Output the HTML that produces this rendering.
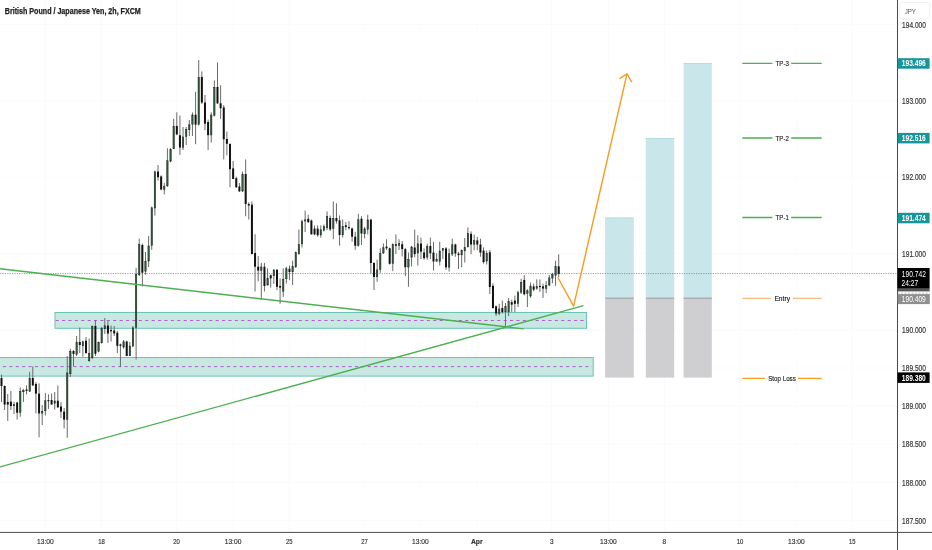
<!DOCTYPE html><html><head><meta charset="utf-8"><style>html,body{margin:0;padding:0;background:#fff;width:932px;height:550px;overflow:hidden}svg{display:block;will-change:transform}text{font-family:"Liberation Sans",sans-serif}</style></head><body>
<svg width="932" height="550" viewBox="0 0 932 550">
<rect width="932" height="550" fill="#fff"/>
<path d="M45.4 0V532 M101.5 0V532 M176.5 0V532 M233.0 0V532 M289.3 0V532 M364.5 0V532 M420.5 0V532 M476.8 0V532 M551.8 0V532 M608.5 0V532 M664.3 0V532 M740.0 0V532 M796.5 0V532 M852.3 0V532 M0 24.6H897 M0 100.9H897 M0 177.2H897 M0 253.5H897 M0 329.9H897 M0 368.0H897 M0 406.2H897 M0 444.3H897 M0 482.5H897 M0 520.7H897" stroke="#fbfbfb" stroke-width="1" fill="none"/>
<rect x="55" y="312.5" width="531.5" height="15.8" fill="#c8e8e2" stroke="#6cc4b4" stroke-width="1"/>
<rect x="-1" y="357.5" width="594.2" height="18.6" fill="#c8e8e2" stroke="#6cc4b4" stroke-width="1"/>
<path d="M55.6 320.5H585" stroke="#b45ccc" stroke-width="1" stroke-dasharray="3.1 3.3" fill="none"/>
<path d="M2.95 366.6H592" stroke="#b45ccc" stroke-width="1" stroke-dasharray="3.1 3.3" fill="none"/>
<rect x="605.1" y="217.6" width="28.7" height="80.6" fill="#c9e7eb"/>
<rect x="605.1" y="298.2" width="28.7" height="79.4" fill="#cfcfd2"/>
<rect x="605.1" y="297.6" width="28.7" height="1.2" fill="#a2a2a6"/>
<rect x="605.1" y="217.6" width="28.7" height="1" fill="#b3dde2"/>
<rect x="645.8" y="138" width="28.4" height="160.2" fill="#c9e7eb"/>
<rect x="645.8" y="298.2" width="28.4" height="79.4" fill="#cfcfd2"/>
<rect x="645.8" y="297.6" width="28.4" height="1.2" fill="#a2a2a6"/>
<rect x="645.8" y="138" width="28.4" height="1" fill="#b3dde2"/>
<rect x="683.6" y="63.1" width="28.2" height="235.1" fill="#c9e7eb"/>
<rect x="683.6" y="298.2" width="28.2" height="79.4" fill="#cfcfd2"/>
<rect x="683.6" y="297.6" width="28.2" height="1.2" fill="#a2a2a6"/>
<rect x="683.6" y="63.1" width="28.2" height="1" fill="#b3dde2"/>
<path d="M0 273.6H897" stroke="#8a8a8a" stroke-width="0.9" stroke-dasharray="1.2 1.2" fill="none"/>
<path d="M1.50 374.5V402.0 M4.63 385.5V410.0 M7.76 394.0V421.0 M10.89 391.0V410.0 M14.02 401.8V414.0 M17.15 401.8V419.6 M20.28 387.5V416.8 M23.41 389.0V402.0 M26.54 385.5V394.3 M29.67 371.8V392.0 M32.80 366.4V385.5 M35.93 382.0V413.4 M39.06 383.4V437.3 M42.19 405.0V425.0 M45.32 393.0V415.5 M48.45 394.3V409.0 M51.58 393.5V405.0 M54.72 392.0V409.5 M57.85 385.5V408.0 M60.98 402.0V418.0 M64.11 408.0V428.4 M67.24 356.0V437.8 M70.37 348.7V377.0 M73.50 350.0V366.0 M76.63 336.0V356.0 M79.76 327.6V353.0 M82.89 340.7V356.7 M86.02 337.0V353.8 M89.15 338.5V361.8 M92.28 325.5V359.0 M95.41 320.0V356.0 M98.54 341.5V352.4 M101.67 327.0V343.6 M104.80 318.0V334.0 M107.93 321.0V343.0 M111.06 325.5V341.5 M114.19 326.0V336.0 M117.32 331.0V353.0 M120.45 343.6V367.0 M123.58 340.0V348.7 M126.71 340.7V356.0 M129.84 342.0V356.0 M132.97 326.0V346.5 M136.10 267.8V359.6 M139.23 238.6V276.0 M142.36 243.5V286.6 M145.49 252.0V274.7 M148.62 236.0V267.0 M151.75 206.6V249.8 M154.88 170.6V215.6 M158.02 165.0V180.5 M161.15 175.3V190.3 M164.28 183.0V194.4 M167.41 148.3V187.0 M170.54 148.3V162.2 M173.67 118.8V149.0 M176.80 112.3V135.2 M179.93 115.5V154.8 M183.06 127.0V150.0 M186.19 127.0V145.0 M189.32 120.0V136.0 M192.45 112.5V136.0 M195.58 91.8V144.2 M198.71 60.0V125.4 M201.84 71.4V104.0 M204.97 95.0V130.3 M208.10 119.6V150.0 M211.23 112.3V142.6 M214.36 80.4V116.4 M217.49 62.4V104.0 M220.62 85.3V118.8 M223.75 105.0V159.4 M226.88 131.5V155.3 M230.01 143.8V187.2 M233.14 161.0V179.0 M236.27 176.6V188.0 M239.40 183.0V192.0 M242.53 171.6V192.0 M245.66 159.4V216.2 M248.79 202.3V219.5 M251.92 201.5V254.6 M255.05 234.3V291.5 M258.18 256.0V281.4 M261.31 262.9V300.0 M264.45 262.9V291.5 M267.58 268.3V285.3 M270.71 274.5V287.6 M273.84 269.0V283.7 M276.97 269.0V290.0 M280.10 278.3V303.8 M283.23 268.3V296.9 M286.36 266.7V283.5 M289.49 265.5V280.2 M292.62 260.6V285.0 M295.75 251.5V268.0 M298.88 229.5V254.8 M302.01 219.6V247.5 M305.14 210.6V232.0 M308.27 214.7V223.0 M311.40 219.6V234.4 M314.53 225.4V235.2 M317.66 225.4V236.8 M320.79 225.4V237.6 M323.92 224.5V231.5 M327.05 211.4V230.0 M330.18 215.5V231.0 M333.31 201.5V239.2 M336.44 203.2V223.6 M339.57 215.5V245.7 M342.70 219.5V237.6 M345.83 222.0V230.2 M348.96 221.2V229.4 M352.09 227.7V241.6 M355.22 231.8V249.8 M358.35 213.8V246.6 M361.48 216.3V245.0 M364.61 227.0V238.5 M367.75 214.7V234.4 M370.88 218.8V273.6 M374.01 262.2V290.0 M377.14 259.7V281.8 M380.27 248.3V272.8 M383.40 243.4V254.0 M386.53 239.3V250.0 M389.66 247.5V264.6 M392.79 243.4V271.2 M395.92 234.4V254.0 M399.05 239.3V250.0 M402.18 241.0V256.5 M405.31 248.0V276.2 M408.44 252.5V286.8 M411.57 246.0V266.4 M414.70 229.5V257.4 M417.83 235.3V265.6 M420.96 237.7V259.0 M424.09 248.4V259.8 M427.22 243.5V259.8 M430.35 237.7V259.0 M433.48 241.8V270.5 M436.61 253.3V261.5 M439.74 241.8V265.6 M442.87 248.4V259.0 M446.00 247.0V269.8 M449.13 248.6V271.5 M452.26 238.7V256.0 M455.39 243.6V256.7 M458.52 251.8V269.0 M461.65 249.4V267.4 M464.78 238.0V262.5 M467.91 227.3V247.7 M471.05 231.4V254.3 M474.18 234.6V250.2 M477.31 237.0V250.2 M480.44 238.7V256.7 M483.57 247.4V263.7 M486.70 250.6V264.5 M489.83 249.8V294.0 M492.96 283.4V308.7 M496.09 305.5V316.0 M499.22 303.8V315.3 M502.35 300.6V313.6 M505.48 303.0V326.7 M508.61 298.0V316.0 M511.74 299.7V312.0 M514.87 295.6V312.0 M518.00 290.7V307.0 M521.13 278.8V294.0 M524.26 275.3V295.4 M527.39 289.2V307.0 M530.52 282.6V297.9 M533.65 283.7V291.3 M536.78 279.4V289.7 M539.91 279.4V291.9 M543.04 283.7V297.9 M546.17 281.0V293.0 M549.30 275.0V285.9 M552.43 272.8V283.2 M555.56 260.8V285.9 M558.69 254.3V277.2" stroke="#6a6a6a" stroke-width="1" fill="none"/>
<g fill="#325f41" stroke="#1c2a20" stroke-width="0.5"><rect x="13.32" y="404.25" width="1.4" height="1.50"/><rect x="19.58" y="391.25" width="1.4" height="21.20"/><rect x="22.71" y="390.25" width="1.4" height="1.50"/><rect x="25.84" y="389.75" width="1.4" height="1.00"/><rect x="28.97" y="378.25" width="1.4" height="13.10"/><rect x="41.49" y="411.25" width="1.4" height="1.90"/><rect x="44.62" y="400.75" width="1.4" height="10.00"/><rect x="47.75" y="400.25" width="1.4" height="0.80"/><rect x="54.02" y="400.95" width="1.4" height="2.40"/><rect x="66.54" y="372.95" width="1.4" height="46.40"/><rect x="69.67" y="351.25" width="1.4" height="22.50"/><rect x="75.93" y="342.25" width="1.4" height="12.00"/><rect x="82.19" y="341.75" width="1.4" height="4.00"/><rect x="88.45" y="353.25" width="1.4" height="7.50"/><rect x="91.58" y="326.25" width="1.4" height="31.50"/><rect x="97.84" y="342.25" width="1.4" height="9.10"/><rect x="100.97" y="328.65" width="1.4" height="14.10"/><rect x="104.10" y="325.75" width="1.4" height="3.00"/><rect x="122.88" y="341.75" width="1.4" height="5.30"/><rect x="129.14" y="346.05" width="1.4" height="9.70"/><rect x="132.27" y="327.85" width="1.4" height="18.40"/><rect x="135.40" y="274.25" width="1.4" height="53.10"/><rect x="138.53" y="244.55" width="1.4" height="30.20"/><rect x="144.79" y="261.25" width="1.4" height="10.00"/><rect x="147.92" y="245.95" width="1.4" height="15.10"/><rect x="151.05" y="207.75" width="1.4" height="37.70"/><rect x="154.18" y="171.75" width="1.4" height="36.30"/><rect x="163.58" y="186.25" width="1.4" height="3.00"/><rect x="166.71" y="160.75" width="1.4" height="25.00"/><rect x="169.84" y="149.25" width="1.4" height="11.90"/><rect x="172.97" y="126.25" width="1.4" height="22.50"/><rect x="182.36" y="137.05" width="1.4" height="10.20"/><rect x="185.49" y="129.25" width="1.4" height="7.30"/><rect x="188.62" y="124.75" width="1.4" height="5.00"/><rect x="191.75" y="114.95" width="1.4" height="9.30"/><rect x="198.01" y="77.25" width="1.4" height="47.10"/><rect x="210.53" y="114.95" width="1.4" height="20.00"/><rect x="213.66" y="87.25" width="1.4" height="28.10"/><rect x="241.83" y="174.25" width="1.4" height="16.80"/><rect x="260.61" y="266.95" width="1.4" height="3.40"/><rect x="266.88" y="278.55" width="1.4" height="6.50"/><rect x="273.14" y="270.05" width="1.4" height="5.70"/><rect x="282.53" y="279.25" width="1.4" height="12.00"/><rect x="285.66" y="268.75" width="1.4" height="10.00"/><rect x="291.92" y="266.55" width="1.4" height="5.20"/><rect x="295.05" y="252.65" width="1.4" height="14.10"/><rect x="298.18" y="244.45" width="1.4" height="9.30"/><rect x="301.31" y="221.55" width="1.4" height="22.40"/><rect x="304.44" y="219.85" width="1.4" height="1.20"/><rect x="320.09" y="229.75" width="1.4" height="5.20"/><rect x="323.22" y="226.45" width="1.4" height="3.80"/><rect x="326.35" y="216.25" width="1.4" height="11.50"/><rect x="332.61" y="218.25" width="1.4" height="10.10"/><rect x="342.00" y="226.25" width="1.4" height="8.50"/><rect x="357.65" y="219.75" width="1.4" height="25.70"/><rect x="363.91" y="228.85" width="1.4" height="4.90"/><rect x="367.05" y="219.85" width="1.4" height="9.40"/><rect x="376.44" y="269.85" width="1.4" height="6.90"/><rect x="379.57" y="253.45" width="1.4" height="15.90"/><rect x="382.70" y="247.75" width="1.4" height="5.20"/><rect x="392.09" y="244.45" width="1.4" height="19.10"/><rect x="398.35" y="243.65" width="1.4" height="1.90"/><rect x="407.74" y="259.25" width="1.4" height="7.70"/><rect x="410.87" y="246.95" width="1.4" height="10.20"/><rect x="417.13" y="243.75" width="1.4" height="9.30"/><rect x="426.52" y="246.25" width="1.4" height="10.90"/><rect x="435.91" y="259.25" width="1.4" height="2.00"/><rect x="439.04" y="251.05" width="1.4" height="10.20"/><rect x="442.17" y="248.65" width="1.4" height="1.90"/><rect x="448.43" y="253.75" width="1.4" height="13.40"/><rect x="451.56" y="244.75" width="1.4" height="9.30"/><rect x="460.95" y="250.45" width="1.4" height="4.40"/><rect x="464.08" y="247.25" width="1.4" height="3.50"/><rect x="467.21" y="233.25" width="1.4" height="13.50"/><rect x="473.48" y="240.65" width="1.4" height="3.60"/><rect x="486.00" y="253.25" width="1.4" height="7.80"/><rect x="498.52" y="308.95" width="1.4" height="4.40"/><rect x="504.78" y="306.55" width="1.4" height="5.20"/><rect x="507.91" y="301.65" width="1.4" height="10.10"/><rect x="517.30" y="292.65" width="1.4" height="10.90"/><rect x="520.43" y="282.25" width="1.4" height="9.90"/><rect x="526.69" y="290.75" width="1.4" height="2.50"/><rect x="529.82" y="286.15" width="1.4" height="9.90"/><rect x="536.08" y="286.65" width="1.4" height="1.70"/><rect x="545.47" y="285.55" width="1.4" height="2.80"/><rect x="548.60" y="277.95" width="1.4" height="7.10"/><rect x="551.73" y="274.15" width="1.4" height="3.90"/><rect x="554.86" y="266.55" width="1.4" height="8.70"/></g>
<g fill="#111"><rect x="0.50" y="378.0" width="2" height="8.0"/><rect x="3.63" y="386.0" width="2" height="18.6"/><rect x="6.76" y="402.0" width="2" height="2.6"/><rect x="9.89" y="401.6" width="2" height="4.4"/><rect x="16.15" y="402.5" width="2" height="10.2"/><rect x="31.80" y="378.0" width="2" height="7.5"/><rect x="34.93" y="384.0" width="2" height="9.6"/><rect x="38.06" y="393.6" width="2" height="19.8"/><rect x="50.58" y="400.0" width="2" height="4.4"/><rect x="56.85" y="400.7" width="2" height="6.6"/><rect x="59.98" y="406.5" width="2" height="5.1"/><rect x="63.11" y="411.6" width="2" height="8.0"/><rect x="72.50" y="351.0" width="2" height="3.0"/><rect x="78.76" y="342.0" width="2" height="3.0"/><rect x="85.02" y="340.7" width="2" height="12.3"/><rect x="94.41" y="326.0" width="2" height="27.8"/><rect x="106.93" y="325.5" width="2" height="8.0"/><rect x="110.06" y="330.0" width="2" height="1.3"/><rect x="113.19" y="330.5" width="2" height="3.0"/><rect x="116.32" y="332.7" width="2" height="13.1"/><rect x="119.45" y="344.4" width="2" height="1.4"/><rect x="125.71" y="341.5" width="2" height="14.5"/><rect x="141.36" y="245.0" width="2" height="27.7"/><rect x="157.02" y="171.5" width="2" height="5.7"/><rect x="160.15" y="176.4" width="2" height="13.1"/><rect x="175.80" y="126.0" width="2" height="8.4"/><rect x="178.93" y="135.2" width="2" height="12.3"/><rect x="194.58" y="114.7" width="2" height="9.9"/><rect x="200.84" y="77.0" width="2" height="25.5"/><rect x="203.97" y="102.5" width="2" height="21.2"/><rect x="207.10" y="122.0" width="2" height="13.2"/><rect x="216.49" y="87.0" width="2" height="16.3"/><rect x="219.62" y="103.3" width="2" height="4.9"/><rect x="222.75" y="107.4" width="2" height="31.9"/><rect x="225.88" y="139.0" width="2" height="4.8"/><rect x="229.01" y="143.8" width="2" height="25.4"/><rect x="232.14" y="168.4" width="2" height="10.6"/><rect x="235.27" y="178.2" width="2" height="9.0"/><rect x="238.40" y="186.4" width="2" height="4.9"/><rect x="244.66" y="174.0" width="2" height="30.0"/><rect x="247.79" y="204.0" width="2" height="1.5"/><rect x="250.92" y="204.7" width="2" height="49.3"/><rect x="254.05" y="253.0" width="2" height="13.7"/><rect x="257.18" y="266.7" width="2" height="3.9"/><rect x="263.45" y="266.7" width="2" height="19.3"/><rect x="269.71" y="275.2" width="2" height="3.1"/><rect x="275.97" y="269.8" width="2" height="17.0"/><rect x="279.10" y="286.0" width="2" height="1.6"/><rect x="288.49" y="268.7" width="2" height="3.3"/><rect x="307.27" y="218.8" width="2" height="3.3"/><rect x="310.40" y="220.5" width="2" height="13.9"/><rect x="313.53" y="228.6" width="2" height="5.8"/><rect x="316.66" y="228.6" width="2" height="6.6"/><rect x="329.18" y="218.0" width="2" height="11.4"/><rect x="335.44" y="218.0" width="2" height="3.2"/><rect x="338.57" y="220.4" width="2" height="14.6"/><rect x="344.83" y="225.3" width="2" height="1.7"/><rect x="347.96" y="227.0" width="2" height="1.2"/><rect x="351.09" y="228.5" width="2" height="8.2"/><rect x="354.22" y="236.7" width="2" height="9.0"/><rect x="360.48" y="218.7" width="2" height="14.8"/><rect x="369.88" y="219.6" width="2" height="43.4"/><rect x="373.01" y="263.0" width="2" height="14.0"/><rect x="385.53" y="246.6" width="2" height="1.7"/><rect x="388.66" y="248.3" width="2" height="15.5"/><rect x="394.92" y="244.2" width="2" height="1.6"/><rect x="401.18" y="244.2" width="2" height="4.9"/><rect x="404.31" y="249.2" width="2" height="18.0"/><rect x="413.70" y="247.5" width="2" height="6.6"/><rect x="419.96" y="243.5" width="2" height="8.1"/><rect x="423.09" y="252.5" width="2" height="5.7"/><rect x="429.35" y="246.0" width="2" height="7.3"/><rect x="432.48" y="252.5" width="2" height="9.0"/><rect x="445.00" y="248.5" width="2" height="18.8"/><rect x="454.39" y="244.5" width="2" height="9.0"/><rect x="457.52" y="253.5" width="2" height="1.6"/><rect x="470.05" y="233.8" width="2" height="10.7"/><rect x="476.31" y="240.4" width="2" height="4.1"/><rect x="479.44" y="244.5" width="2" height="8.1"/><rect x="482.57" y="250.6" width="2" height="11.5"/><rect x="488.83" y="252.3" width="2" height="34.7"/><rect x="491.96" y="285.8" width="2" height="22.2"/><rect x="495.09" y="306.3" width="2" height="7.3"/><rect x="501.35" y="308.0" width="2" height="4.0"/><rect x="510.74" y="302.2" width="2" height="2.4"/><rect x="513.87" y="300.6" width="2" height="3.2"/><rect x="523.26" y="280.0" width="2" height="14.3"/><rect x="532.65" y="286.4" width="2" height="3.3"/><rect x="538.91" y="285.9" width="2" height="1.2"/><rect x="542.04" y="286.4" width="2" height="2.2"/><rect x="557.69" y="266.3" width="2" height="7.6"/></g>
<path d="M0 268.8L523.8 328.9M0 466.9L583.5 305.6" stroke="#4caf50" stroke-width="1.4" fill="none"/>
<path d="M557.9 277.5L573.6 306.2L627 73.8M619.5 78.6L627 73.8L631.8 82.2" stroke="#f59d1e" stroke-width="1.4" fill="none" stroke-linejoin="round"/>
<path d="M742.3 63.3H772.4M791.2 63.3H821.7" stroke="#4caf50" stroke-width="1.3" fill="none"/>
<text x="775.6" y="65.9" font-size="7" fill="#222" stroke="#222" stroke-width="0.15" textLength="13.2" lengthAdjust="spacingAndGlyphs">TP-3</text>
<path d="M742.3 138H772.4M791.2 138H821.7" stroke="#4caf50" stroke-width="1.3" fill="none"/>
<text x="775.6" y="140.6" font-size="7" fill="#222" stroke="#222" stroke-width="0.15" textLength="13.2" lengthAdjust="spacingAndGlyphs">TP-2</text>
<path d="M742.3 217.5H772.4M791.2 217.5H821.7" stroke="#4caf50" stroke-width="1.3" fill="none"/>
<text x="775.6" y="220.1" font-size="7" fill="#222" stroke="#222" stroke-width="0.15" textLength="13.2" lengthAdjust="spacingAndGlyphs">TP-1</text>
<path d="M742.3 298.3H771M793 298.3H821.7" stroke="#efbd85" stroke-width="1.3" fill="none"/>
<text x="774.4" y="300.9" font-size="7" fill="#222" stroke="#222" stroke-width="0.15" textLength="15.6" lengthAdjust="spacingAndGlyphs">Entry</text>
<path d="M742.3 378.4H765M798 378.4H821.7" stroke="#f59d1e" stroke-width="1.3" fill="none"/>
<text x="768.2" y="381.0" font-size="7" fill="#222" stroke="#222" stroke-width="0.15" textLength="27.6" lengthAdjust="spacingAndGlyphs">Stop Loss</text>
<path d="M897.5 0V550M0 532.4H932" stroke="#4a4a4a" stroke-width="1" fill="none"/>
<text x="902.1" y="27.6" font-size="8.3" fill="#333" stroke="#333" stroke-width="0.18" textLength="23.8" lengthAdjust="spacingAndGlyphs">194.000</text>
<text x="902.1" y="103.9" font-size="8.3" fill="#333" stroke="#333" stroke-width="0.18" textLength="23.8" lengthAdjust="spacingAndGlyphs">193.000</text>
<text x="902.1" y="180.2" font-size="8.3" fill="#333" stroke="#333" stroke-width="0.18" textLength="23.8" lengthAdjust="spacingAndGlyphs">192.000</text>
<text x="902.1" y="256.5" font-size="8.3" fill="#333" stroke="#333" stroke-width="0.18" textLength="23.8" lengthAdjust="spacingAndGlyphs">191.000</text>
<text x="902.1" y="332.9" font-size="8.3" fill="#333" stroke="#333" stroke-width="0.18" textLength="23.8" lengthAdjust="spacingAndGlyphs">190.000</text>
<text x="902.1" y="371.0" font-size="8.3" fill="#333" stroke="#333" stroke-width="0.18" textLength="23.8" lengthAdjust="spacingAndGlyphs">189.500</text>
<text x="902.1" y="409.2" font-size="8.3" fill="#333" stroke="#333" stroke-width="0.18" textLength="23.8" lengthAdjust="spacingAndGlyphs">189.000</text>
<text x="902.1" y="447.3" font-size="8.3" fill="#333" stroke="#333" stroke-width="0.18" textLength="23.8" lengthAdjust="spacingAndGlyphs">188.500</text>
<text x="902.1" y="485.5" font-size="8.3" fill="#333" stroke="#333" stroke-width="0.18" textLength="23.8" lengthAdjust="spacingAndGlyphs">188.000</text>
<text x="902.1" y="523.7" font-size="8.3" fill="#333" stroke="#333" stroke-width="0.18" textLength="23.8" lengthAdjust="spacingAndGlyphs">187.500</text>
<rect x="899.5" y="2.5" width="30" height="16.5" rx="2.5" fill="#fff" stroke="#eee" stroke-width="0.8"/>
<text x="904.7" y="13.8" font-size="7.5" fill="#555" textLength="11.3" lengthAdjust="spacingAndGlyphs">JPY</text>
<rect x="897.6" y="58.2" width="32" height="10.5" fill="#17959c"/>
<text x="901.8" y="66.4" font-size="8.3" font-weight="bold" fill="#fff" textLength="24" lengthAdjust="spacingAndGlyphs">193.496</text>
<rect x="897.6" y="132.9" width="32" height="10.5" fill="#17959c"/>
<text x="901.8" y="141.1" font-size="8.3" font-weight="bold" fill="#fff" textLength="24" lengthAdjust="spacingAndGlyphs">192.516</text>
<rect x="897.6" y="212.8" width="32" height="10.5" fill="#17959c"/>
<text x="901.8" y="220.9" font-size="8.3" font-weight="bold" fill="#fff" textLength="24" lengthAdjust="spacingAndGlyphs">191.474</text>
<rect x="897.6" y="288" width="32" height="3.4" fill="#555"/>
<path d="M897.6 293.1H930" stroke="#aaa" stroke-width="0.8" stroke-dasharray="2 1.5"/>
<rect x="897.6" y="294.1" width="32.2" height="10" fill="#8f8f8f"/>
<text x="901.8" y="301.9" font-size="8.3" fill="#fff" textLength="24" lengthAdjust="spacingAndGlyphs">190.409</text>
<rect x="897.6" y="268" width="32" height="20.2" fill="#000"/>
<text x="901.8" y="276.8" font-size="8.3" fill="#fff" textLength="24.1" lengthAdjust="spacingAndGlyphs">190.742</text>
<text x="901.6" y="285.5" font-size="8.3" fill="#fff" textLength="16.6" lengthAdjust="spacingAndGlyphs">24:27</text>
<rect x="897.6" y="372.4" width="32" height="10.5" fill="#000"/>
<text x="901.8" y="380.5" font-size="8.3" font-weight="bold" fill="#fff" textLength="24" lengthAdjust="spacingAndGlyphs">189.380</text>
<text x="37.0" y="543.7" font-size="7.7" fill="#333" stroke="#333" stroke-width="0.18" textLength="16.7" lengthAdjust="spacingAndGlyphs">13:00</text>
<text x="98.2" y="543.7" font-size="7.7" fill="#333" stroke="#333" stroke-width="0.18" textLength="6.6" lengthAdjust="spacingAndGlyphs">18</text>
<text x="173.2" y="543.7" font-size="7.7" fill="#333" stroke="#333" stroke-width="0.18" textLength="6.6" lengthAdjust="spacingAndGlyphs">20</text>
<text x="224.7" y="543.7" font-size="7.7" fill="#333" stroke="#333" stroke-width="0.18" textLength="16.7" lengthAdjust="spacingAndGlyphs">13:00</text>
<text x="286.0" y="543.7" font-size="7.7" fill="#333" stroke="#333" stroke-width="0.18" textLength="6.6" lengthAdjust="spacingAndGlyphs">25</text>
<text x="361.2" y="543.7" font-size="7.7" fill="#333" stroke="#333" stroke-width="0.18" textLength="6.6" lengthAdjust="spacingAndGlyphs">27</text>
<text x="412.1" y="543.7" font-size="7.7" fill="#333" stroke="#333" stroke-width="0.18" textLength="16.7" lengthAdjust="spacingAndGlyphs">13:00</text>
<text x="470.9" y="543.7" font-size="7.7" fill="#333" stroke="#333" stroke-width="0.18" textLength="11.8" lengthAdjust="spacingAndGlyphs" font-weight="bold">Apr</text>
<text x="550.0" y="543.7" font-size="7.7" fill="#333" stroke="#333" stroke-width="0.18" textLength="3.6" lengthAdjust="spacingAndGlyphs">3</text>
<text x="600.1" y="543.7" font-size="7.7" fill="#333" stroke="#333" stroke-width="0.18" textLength="16.7" lengthAdjust="spacingAndGlyphs">13:00</text>
<text x="662.5" y="543.7" font-size="7.7" fill="#333" stroke="#333" stroke-width="0.18" textLength="3.6" lengthAdjust="spacingAndGlyphs">8</text>
<text x="736.7" y="543.7" font-size="7.7" fill="#333" stroke="#333" stroke-width="0.18" textLength="6.6" lengthAdjust="spacingAndGlyphs">10</text>
<text x="788.1" y="543.7" font-size="7.7" fill="#333" stroke="#333" stroke-width="0.18" textLength="16.7" lengthAdjust="spacingAndGlyphs">13:00</text>
<text x="849.0" y="543.7" font-size="7.7" fill="#333" stroke="#333" stroke-width="0.18" textLength="6.6" lengthAdjust="spacingAndGlyphs">15</text>
<text x="4.8" y="13.6" font-size="8.3" font-weight="bold" fill="#222" stroke="#222" stroke-width="0.25" textLength="136" lengthAdjust="spacingAndGlyphs">British Pound / Japanese Yen, 2h, FXCM</text>
</svg></body></html>
